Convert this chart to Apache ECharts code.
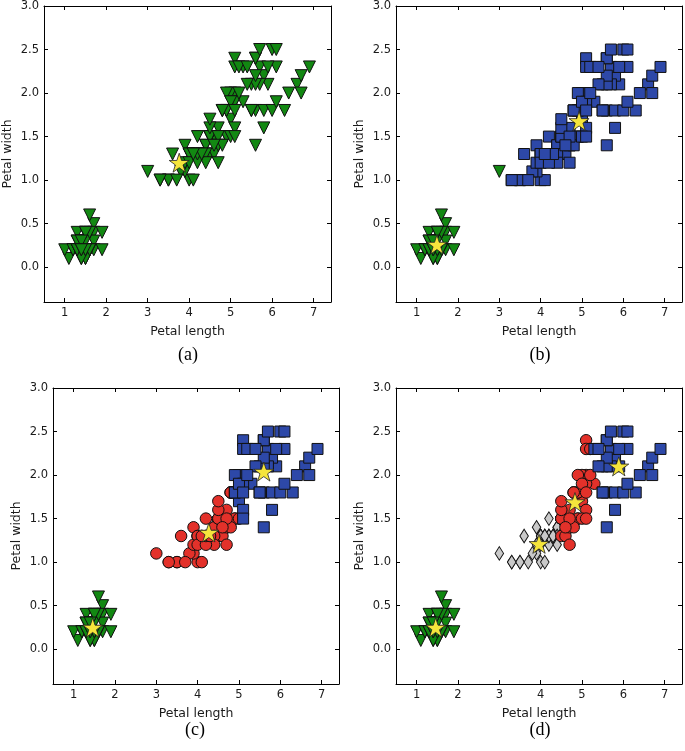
<!DOCTYPE html>
<html>
<head>
<meta charset="utf-8">
<script src="https://cdn.jsdelivr.net/npm/echarts@6/dist/echarts.min.js"></script>
<style>
html,body{margin:0;padding:0;background:#fff;}
#chart{width:685px;height:751px;}
</style>
</head>
<body>
<div id="chart"></div>
<script>
// Iris petal measurements (rows 1..150)
const petalLength = [
  1.4,1.4,1.3,1.5,1.4,1.7,1.4,1.5,1.4,1.5,
  1.5,1.6,1.4,1.1,1.2,1.5,1.3,1.4,1.7,1.5,
  1.7,1.5,1.0,1.7,1.9,1.6,1.6,1.5,1.4,1.6,
  1.6,1.5,1.5,1.4,1.5,1.2,1.3,1.4,1.3,1.5,
  1.3,1.3,1.3,1.6,1.9,1.4,1.6,1.4,1.5,1.4,
  4.7,4.5,4.9,4.0,4.6,4.5,4.7,3.3,4.6,3.9,
  3.5,4.2,4.0,4.7,3.6,4.4,4.5,4.1,4.5,3.9,
  4.8,4.0,4.9,4.7,4.3,4.4,4.8,5.0,4.5,3.5,
  3.8,3.7,3.9,5.1,4.5,4.5,4.7,4.4,4.1,4.0,
  4.4,4.6,4.0,3.3,4.2,4.2,4.2,4.3,3.0,4.1,
  6.0,5.1,5.9,5.6,5.8,6.6,4.5,6.3,5.8,6.1,
  5.1,5.3,5.5,5.0,5.1,5.3,5.5,6.7,6.9,5.0,
  5.7,4.9,6.7,4.9,5.7,6.0,4.8,4.9,5.6,5.8,
  6.1,6.4,5.6,5.1,5.6,6.1,5.6,5.5,4.8,5.4,
  5.6,5.1,5.1,5.9,5.7,5.2,5.0,5.2,5.4,5.1
];
const petalWidth = [
  0.2,0.2,0.2,0.2,0.2,0.4,0.3,0.2,0.2,0.1,
  0.2,0.2,0.1,0.1,0.2,0.4,0.4,0.3,0.3,0.3,
  0.2,0.4,0.2,0.5,0.2,0.2,0.4,0.2,0.2,0.2,
  0.2,0.4,0.1,0.2,0.2,0.2,0.2,0.1,0.2,0.2,
  0.3,0.3,0.2,0.6,0.4,0.3,0.2,0.2,0.2,0.2,
  1.4,1.5,1.5,1.3,1.5,1.3,1.6,1.0,1.3,1.4,
  1.0,1.5,1.0,1.4,1.3,1.4,1.5,1.0,1.5,1.1,
  1.8,1.3,1.5,1.2,1.3,1.4,1.4,1.7,1.5,1.0,
  1.1,1.0,1.2,1.6,1.5,1.6,1.5,1.3,1.3,1.3,
  1.2,1.4,1.2,1.0,1.3,1.2,1.3,1.3,1.1,1.3,
  2.5,1.9,2.1,1.8,2.2,2.1,1.7,1.8,1.8,2.5,
  2.0,1.9,2.1,2.0,2.4,2.3,1.8,2.2,2.3,1.5,
  2.3,2.0,2.0,1.8,2.1,1.8,1.8,1.8,2.1,1.6,
  1.9,2.0,2.2,1.5,1.4,2.3,2.4,1.8,1.8,2.1,
  2.4,2.3,1.9,2.3,2.5,2.3,1.9,2.0,2.3,1.8
];

// Cluster codes: 0 = green triangle, 1 = grey diamond, 2 = red circle, 3 = blue square
const labelsA = new Array(150).fill(0);
const labelsB = [
  0,0,0,0,0,0,0,0,0,0, 0,0,0,0,0,0,0,0,0,0, 0,0,0,0,0,0,0,0,0,0, 0,0,0,0,0,0,0,0,0,0, 0,0,0,0,0,0,0,0,0,0,
  3,3,3,3,3,3,3,3,3,3, 3,3,3,3,3,3,3,3,3,3, 3,3,3,3,3,3,3,3,3,3, 3,3,3,3,3,3,3,3,3,3, 3,3,3,3,3,3,3,3,0,3,
  3,3,3,3,3,3,3,3,3,3, 3,3,3,3,3,3,3,3,3,3, 3,3,3,3,3,3,3,3,3,3, 3,3,3,3,3,3,3,3,3,3, 3,3,3,3,3,3,3,3,3,3
];
const labelsC = [
  0,0,0,0,0,0,0,0,0,0, 0,0,0,0,0,0,0,0,0,0, 0,0,0,0,0,0,0,0,0,0, 0,0,0,0,0,0,0,0,0,0, 0,0,0,0,0,0,0,0,0,0,
  2,2,2,2,2,2,2,2,2,2, 2,2,2,2,2,2,2,2,2,2, 2,2,2,2,2,2,2,3,2,2, 2,2,2,3,2,2,2,2,2,2, 2,2,2,2,2,2,2,2,2,2,
  3,3,3,3,3,3,2,3,3,3, 3,3,3,3,3,3,3,3,3,2, 3,3,3,3,3,3,2,3,3,3, 3,3,3,3,3,3,3,3,2,3, 3,3,3,3,3,3,3,3,3,3
];
const labelsD = [
  0,0,0,0,0,0,0,0,0,0, 0,0,0,0,0,0,0,0,0,0, 0,0,0,0,0,0,0,0,0,0, 0,0,0,0,0,0,0,0,0,0, 0,0,0,0,0,0,0,0,0,0,
  2,2,2,1,2,2,2,1,2,1, 1,1,1,2,1,1,2,1,2,1, 2,1,2,2,1,1,2,2,2,1, 1,1,1,2,2,2,2,1,1,1, 1,2,1,1,1,1,1,1,1,1,
  3,2,3,3,3,3,2,3,3,3, 2,2,3,2,2,3,3,3,3,2, 3,2,3,2,3,3,2,2,3,3, 3,3,3,2,3,3,3,3,2,3, 3,2,2,3,3,2,2,2,3,2
];

// Cluster centres (stars) per panel
const centersA = [[3.76, 1.20]];
const centersB = [[1.49, 0.26], [4.93, 1.68]];
const centersC = [[1.46, 0.25], [4.27, 1.34], [5.60, 2.04]];
const centersD = [[1.46, 0.25], [3.96, 1.21], [4.83, 1.69], [5.89, 2.10]];

const xTicks = [1, 2, 3, 4, 5, 6, 7];
const yTicks = [0, 0.5, 1.0, 1.5, 2.0, 2.5, 3.0];
const panelCaptions = ['(a)', '(b)', '(c)', '(d)'];
const xTitle = 'Petal length';
const yTitle = 'Petal width';

const panels = [
  {labels: labelsA, centers: centersA, grid: {left: 44, top: 6, width: 287, height: 296}, cap: [188, 355]},
  {labels: labelsB, centers: centersB, grid: {left: 396, top: 6, width: 286, height: 296}, cap: [540, 355]},
  {labels: labelsC, centers: centersC, grid: {left: 53, top: 388, width: 286, height: 296}, cap: [195, 730]},
  {labels: labelsD, centers: centersD, grid: {left: 396, top: 388, width: 286, height: 296}, cap: [540, 730]}
];

const STYLES = {
  0: {symbol: 'triangle', rotate: 180, size: 12, color: '#128812'},
  1: {symbol: 'diamond', rotate: 0, size: [8.5, 13.5], color: '#c9c9c9'},
  2: {symbol: 'circle', rotate: 0, size: 11.5, color: '#e3312a'},
  3: {symbol: 'rect', rotate: 0, size: 11, color: '#2d48a8'}
};
const STAR = 'path://M50 0 L61.23 34.55 L97.55 34.55 L68.17 55.9 L79.39 90.45 L50 69.1 L20.61 90.45 L31.83 55.9 L2.45 34.55 L38.77 34.55 Z';

const XMIN = 0.5, XMAX = 7.42, YMIN = -0.4, YMAX = 3.0;
const FONT = 'DejaVu Sans';

const grids = [], xAxes = [], yAxes = [], series = [], graphics = [];
panels.forEach((p, pi) => {
  grids.push(Object.assign({containLabel: false}, p.grid));
  const lineStyle = {color: '#000', width: 1};
  const tick = (vals) => ({show: true, inside: true, length: 4, customValues: vals, lineStyle: {color: '#000', width: 1}});
  xAxes.push({
    type: 'value', gridIndex: pi, position: 'bottom', min: XMIN, max: XMAX,
    axisLine: {show: true, onZero: false, lineStyle},
    axisTick: tick(xTicks),
    axisLabel: {show: true, customValues: xTicks, fontSize: 11.5, color: '#1a1a1a', fontFamily: FONT, margin: 5},
    splitLine: {show: false},
    name: xTitle, nameLocation: 'middle', nameGap: 23,
    nameTextStyle: {fontSize: 12.5, color: '#1a1a1a', fontFamily: FONT}
  });
  xAxes.push({
    type: 'value', gridIndex: pi, position: 'top', min: XMIN, max: XMAX,
    axisLine: {show: true, onZero: false, lineStyle},
    axisTick: tick(xTicks), axisLabel: {show: false}, splitLine: {show: false}
  });
  yAxes.push({
    type: 'value', gridIndex: pi, position: 'left', min: YMIN, max: YMAX,
    axisLine: {show: true, onZero: false, lineStyle},
    axisTick: tick(yTicks),
    axisLabel: {show: true, customValues: yTicks, fontSize: 11.5, color: '#1a1a1a', fontFamily: FONT, margin: 5,
      formatter: v => Number(v).toFixed(1)},
    splitLine: {show: false},
    name: yTitle, nameLocation: 'middle', nameGap: 30, nameRotate: 90,
    nameTextStyle: {fontSize: 12.5, color: '#1a1a1a', fontFamily: FONT}
  });
  yAxes.push({
    type: 'value', gridIndex: pi, position: 'right', min: YMIN, max: YMAX,
    axisLine: {show: true, onZero: false, lineStyle},
    axisTick: tick(yTicks), axisLabel: {show: false}, splitLine: {show: false}
  });

  [0, 1, 2, 3].forEach(code => {
    const data = [];
    for (let i = 0; i < petalLength.length; i++) {
      if (p.labels[i] === code) data.push([petalLength[i], petalWidth[i]]);
    }
    if (!data.length) return;
    const st = STYLES[code];
    series.push({
      type: 'scatter', xAxisIndex: pi * 2, yAxisIndex: pi * 2,
      symbol: st.symbol, symbolSize: st.size, symbolRotate: st.rotate,
      itemStyle: {color: st.color, borderColor: '#111', borderWidth: 1, opacity: 1},
      emphasis: {disabled: true}, silent: true, animation: false,
      data
    });
  });
  series.push({
    type: 'scatter', xAxisIndex: pi * 2, yAxisIndex: pi * 2,
    symbol: STAR, symbolSize: 20, symbolKeepAspect: true,
    itemStyle: {color: '#f5e53c', borderColor: '#222', borderWidth: 0.8, opacity: 1},
    emphasis: {disabled: true}, silent: true, animation: false, z: 5,
    data: p.centers
  });

  graphics.push({
    type: 'text', x: p.cap[0], y: p.cap[1],
    style: {text: panelCaptions[pi], fontFamily: 'Liberation Serif', fontSize: 18, fill: '#000',
      align: 'center', verticalAlign: 'middle'}
  });
});

const chart = echarts.init(document.getElementById('chart'), null, {renderer: 'canvas'});
chart.setOption({
  animation: false,
  backgroundColor: '#fff',
  grid: grids,
  xAxis: xAxes,
  yAxis: yAxes,
  series,
  graphic: graphics
});
</script>
</body>
</html>
